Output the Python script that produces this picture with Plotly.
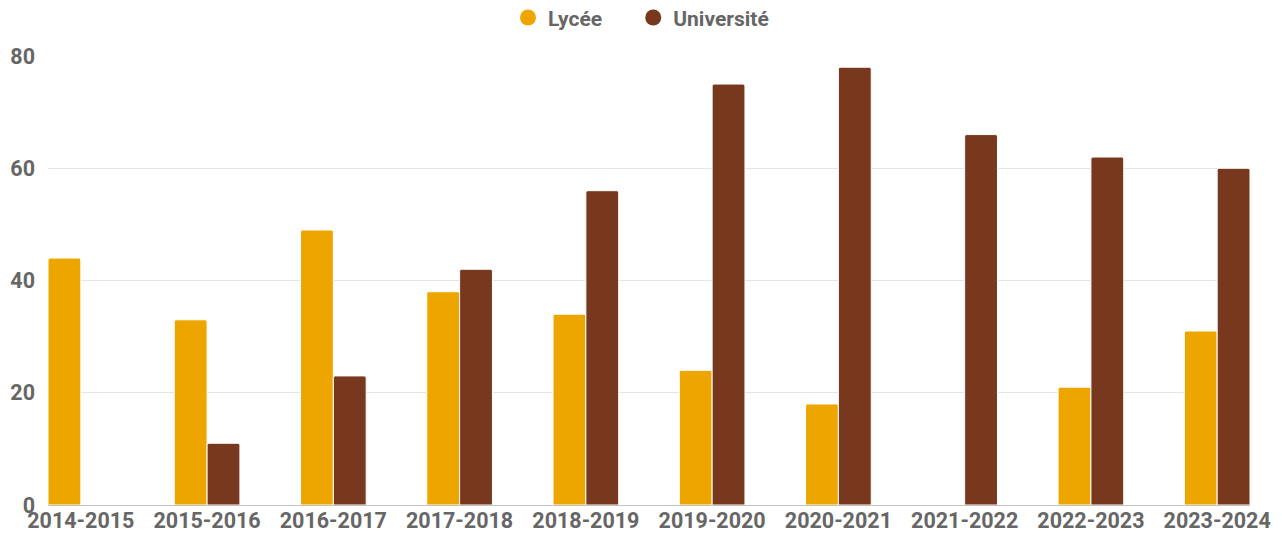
import plotly.graph_objects as go

categories = ["2014-2015", "2015-2016", "2016-2017", "2017-2018", "2018-2019",
              "2019-2020", "2020-2021", "2021-2022", "2022-2023", "2023-2024"]
lycee = [44, 33, 49, 38, 34, 24, 18, None, 21, 31]
universite = [None, 11, 23, 42, 56, 75, 78, 66, 62, 60]
y_ticks = [0, 20, 40, 60, 80]
series_names = ["Lycée", "Université"]

c_lycee = "#eda600"
c_univ = "#77381e"
txt = "#666666"
font_family = "Roboto"

fig = go.Figure()
fig.add_trace(go.Bar(x=categories, y=lycee, name=series_names[0],
                     marker=dict(color=c_lycee, line=dict(color="white", width=1)),
                     showlegend=False))
fig.add_trace(go.Bar(x=categories, y=universite, name=series_names[1],
                     marker=dict(color=c_univ, line=dict(color="white", width=1)),
                     showlegend=False))
# legend entries with circle markers (non-breaking spaces only add spacing)
legend_labels = [series_names[0] + "\u00a0" * 5, series_names[1]]
for name, col in zip(legend_labels, [c_lycee, c_univ]):
    fig.add_trace(go.Scatter(x=[None], y=[None], mode="markers", name=name,
                             marker=dict(color=col, size=22, symbol="circle")))

fig.update_layout(
    width=1266, height=530,
    margin=dict(l=40, r=24, t=48, b=33, autoexpand=False),
    paper_bgcolor="white", plot_bgcolor="white",
    barmode="group", bargap=0.48, bargroupgap=0.0,
    barcornerradius=2,
    font=dict(family=font_family, color=txt, size=20, weight="bold"),
    legend=dict(orientation="h", x=0.5, xanchor="center", xref="container",
                y=1.085, yanchor="middle", yref="paper",
                font=dict(size=21, color=txt, weight="bold"),
                traceorder="normal"),
    xaxis=dict(type="category", range=[-0.26, 9.26], showgrid=False, ticks="",
               tickfont=dict(size=21.5, color=txt, weight="bold"), fixedrange=True,
               showline=False),
    yaxis=dict(range=[0, 80], tickvals=y_ticks, showgrid=True, gridcolor="#e4e4e4",
               gridwidth=1, zeroline=True, zerolinecolor="#c2c2c2", zerolinewidth=1,
               ticks="", ticklabelstandoff=12,
               tickfont=dict(size=21.5, color=txt, weight="bold")),
)
fig.write_html("out.html")
